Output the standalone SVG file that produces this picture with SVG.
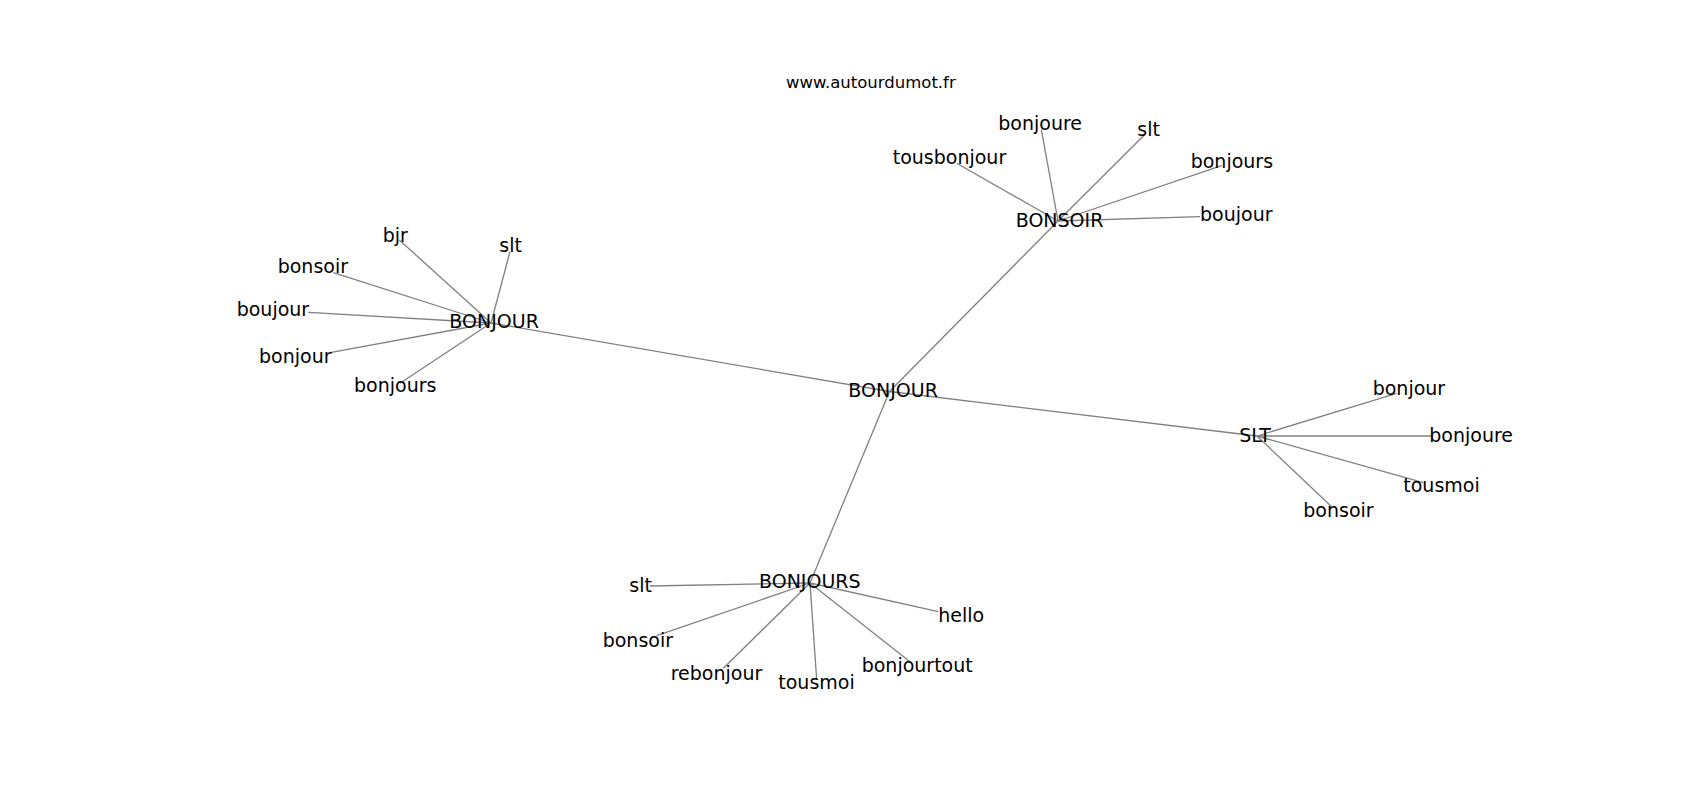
<svg xmlns="http://www.w3.org/2000/svg" width="1700" height="800" viewBox="0 0 1700 800">
<style>
.e{stroke:#808080;stroke-width:1.3;fill:none}
.t{font-family:"DejaVu Sans",sans-serif;font-size:19px;fill:#000}
.ti{font-family:"DejaVu Sans",sans-serif;font-size:16.5px;fill:#000}
</style>
<rect width="1700" height="800" fill="#fff"/>
<text class="ti" x="786" y="88">www.autourdumot.fr</text>
<g id="connectors">
<line class="e" x1="889.5" y1="391.5" x2="491" y2="323"/>
<line class="e" x1="889.5" y1="391.5" x2="1058" y2="221"/>
<line class="e" x1="889.5" y1="391.5" x2="1257" y2="436"/>
<line class="e" x1="889.5" y1="391.5" x2="810" y2="583"/>
<line class="e" x1="491" y1="323" x2="399.3" y2="240"/>
<line class="e" x1="491" y1="323" x2="510" y2="251.7"/>
<line class="e" x1="491" y1="323" x2="333.3" y2="272.7"/>
<line class="e" x1="491" y1="323" x2="308.3" y2="312.3"/>
<line class="e" x1="491" y1="323" x2="330" y2="352.7"/>
<line class="e" x1="491" y1="323" x2="400" y2="383.3"/>
<line class="e" x1="1058" y1="221" x2="1041.3" y2="129.3"/>
<line class="e" x1="1058" y1="221" x2="1144.3" y2="135"/>
<line class="e" x1="1058" y1="221" x2="956.7" y2="163.3"/>
<line class="e" x1="1058" y1="221" x2="1221.7" y2="165.7"/>
<line class="e" x1="1058" y1="221" x2="1200" y2="216.7"/>
<line class="e" x1="1257" y1="436" x2="1396.7" y2="393.3"/>
<line class="e" x1="1257" y1="436" x2="1433.3" y2="436"/>
<line class="e" x1="1257" y1="436" x2="1423.3" y2="482.7"/>
<line class="e" x1="1257" y1="436" x2="1331.7" y2="506.7"/>
<line class="e" x1="810" y1="583" x2="650" y2="586"/>
<line class="e" x1="810" y1="583" x2="938.3" y2="611.7"/>
<line class="e" x1="810" y1="583" x2="656.7" y2="635.7"/>
<line class="e" x1="810" y1="583" x2="723.3" y2="668.3"/>
<line class="e" x1="810" y1="583" x2="816.7" y2="680"/>
<line class="e" x1="810" y1="583" x2="910" y2="661.7"/>
</g>
<g id="n-bonjour-center"><text class="t" x="848.3" y="396.7">BONJOUR</text></g>
<g id="n-bonjour-left"><text class="t" x="449.3" y="328.3">BONJOUR</text></g>
<g id="n-bonsoir"><text class="t" x="1015.7" y="227.3">BONSOIR</text></g>
<g id="n-slt"><text class="t" x="1239.3" y="441.7">SLT</text></g>
<g id="n-bonjours"><text class="t" x="759" y="588.3">BONJOURS</text></g>
<g id="l-bjr"><text class="t" x="382.7" y="241.7">bjr</text></g>
<g id="l-slt"><text class="t" x="499.3" y="251.7">slt</text></g>
<g id="l-bonsoir"><text class="t" x="277.7" y="273.3">bonsoir</text></g>
<g id="l-boujour"><text class="t" x="236.7" y="316">boujour</text></g>
<g id="l-bonjour"><text class="t" x="259" y="362.7">bonjour</text></g>
<g id="l-bonjours"><text class="t" x="354" y="391.7">bonjours</text></g>
<g id="n-bonjoure"><text class="t" x="998.3" y="130">bonjoure</text></g>
<g id="n-slt2"><text class="t" x="1137.3" y="135.7">slt</text></g>
<g id="n-tousbonjour"><text class="t" x="892.7" y="164">tousbonjour</text></g>
<g id="n-bonjours2"><text class="t" x="1190.7" y="167.7">bonjours</text></g>
<g id="n-boujour2"><text class="t" x="1200" y="221">boujour</text></g>
<g id="s-bonjour"><text class="t" x="1372.7" y="395">bonjour</text></g>
<g id="s-bonjoure"><text class="t" x="1429.3" y="441.7">bonjoure</text></g>
<g id="s-tousmoi"><text class="t" x="1403.3" y="491.7">tousmoi</text></g>
<g id="s-bonsoir"><text class="t" x="1303.3" y="516.7">bonsoir</text></g>
<g id="b-slt"><text class="t" x="629.3" y="591.7">slt</text></g>
<g id="b-hello"><text class="t" x="938.3" y="621.7">hello</text></g>
<g id="b-bonsoir"><text class="t" x="602.7" y="646.7">bonsoir</text></g>
<g id="b-rebonjour"><text class="t" x="670.7" y="680">rebonjour</text></g>
<g id="b-tousmoi"><text class="t" x="778.3" y="689.3">tousmoi</text></g>
<g id="b-bonjourtout"><text class="t" x="861.7" y="672.3">bonjourtout</text></g>
</svg>
